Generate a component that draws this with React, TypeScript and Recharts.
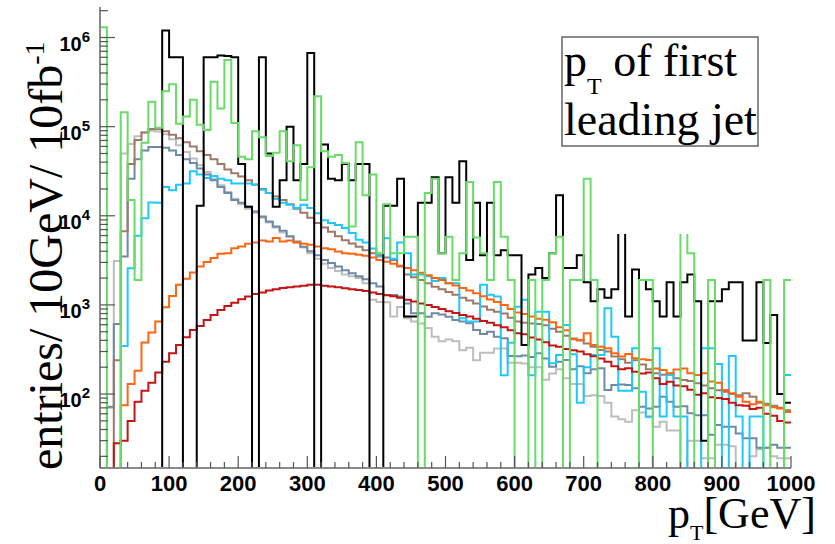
import React from 'react';
import { LineChart, Line, XAxis, YAxis } from 'recharts';

// 10 GeV bins from 0 to 1000 GeV; the last edge closes the final bin
const PT_EDGES = Array.from({ length: 101 }, (_, i) => i * 10);
const X_TICKS = Array.from({ length: 51 }, (_, i) => i * 20);
const Y_TICKS = [1, 2, 3, 4, 5, 6]
  .flatMap((e) => [1, 2, 3, 4, 5, 6, 7, 8, 9].map((m) => m * Math.pow(10, e)))
  .filter((v) => v >= 15 && v <= 2.2e6);
const Y_DOMAIN = [14.8, 2.2e6];

// entries per bin (0 = empty bin)
const BLACK = [
  0, 0, 0, 0, 0, 0, 0, 0, 0, 1.2e6,
  6e5, 6e5, 0, 0, 1.3e4, 6e5, 6e5, 6.3e5, 6.2e5, 6e5,
  3.8e4, 1.26e4, 0, 6e5, 5e4, 1.26e4, 2.5e4, 1e5, 2.5e4, 3.8e4,
  6.7e5, 0, 6.3e4, 2.6e4, 2.5e4, 3.8e4, 2.5e4, 3.8e4, 3.8e4, 0,
  0, 1.3e4, 1.3e4, 2.6e4, 740, 740, 1.4e4, 1.4e4, 2.7e4, 3.8e3,
  2.7e4, 1.4e4, 4.1e4, 3.2e3, 1.4e4, 3.6e3, 1.4e4, 3.6e3, 4.1e3, 3.6e3,
  3.6e3, 355, 2.2e3, 2.6e3, 2.0e3, 3.8e3, 1.7e4, 2.6e3, 2.6e3, 3.6e3,
  1.8e3, 1.1e3, 1.5e3, 1.2e3, 1.5e3, 3e4, 740, 2.5e3, 1.9e3, 1.5e3,
  1.1e3, 740, 1.8e3, 740, 1.8e3, 2.2e3, 1.1e3, 30, 1.1e3, 1.1e3,
  1.5e3, 1.8e3, 1.8e3, 400, 400, 1.8e3, 375, 770, 100, 80,
];
const GREEN = [
  1.3e6, 0, 0, 1.45e5, 1.5e4, 1.9e3, 6.6e4, 1.9e5, 9.7e4, 2.5e5,
  3.0e5, 1.08e5, 1.3e5, 2.0e5, 1.05e5, 9.2e4, 3.2e5, 1.6e5, 5.6e5, 1.1e5,
  4.6e4, 4.3e4, 8.9e4, 7.6e4, 4.7e4, 5.1e4, 8.9e4, 4.1e4, 6.2e4, 1.5e4,
  3.5e4, 2.2e5, 5.3e4, 4.6e4, 4.8e4, 3.9e4, 7.6e3, 6.7e4, 1.7e4, 2.9e4,
  3.8e3, 1.35e4, 3.8e3, 3.8e3, 5.8e3, 5.8e3, 0, 1.8e4, 2.6e4, 3.8e3,
  5.8e3, 1.9e3, 3.8e3, 2.4e4, 5.7e3, 3.8e3, 1.9e3, 2.4e4, 5.8e3, 1.9e3,
  0, 0, 1.9e3, 0, 1.9e3, 3.8e3, 5.8e3, 0, 1.9e3, 1.9e3,
  2.6e4, 1.9e3, 0, 0, 0, 0, 0, 0, 1.9e3, 1.9e3,
  0, 0, 0, 0, 1e5, 3.8e3, 0, 0, 1.9e3, 0,
  0, 0, 0, 0, 0, 0, 1.9e3, 0, 0, 1.9e3,
];
const BROWN = [
  0, 0, 240, 6.7e3, 3.8e4, 7.1e4, 8.6e4, 9.4e4, 9.4e4, 8.9e4,
  8.1e4, 7.4e4, 6.7e4, 6.0e4, 5.3e4, 4.8e4, 4.3e4, 3.8e4, 3.3e4, 3.0e4,
  2.75e4, 2.5e4, 2.25e4, 2.0e4, 1.8e4, 1.65e4, 1.5e4, 1.35e4, 1.2e4, 1.08e4,
  9.5e3, 8.3e3, 7.4e3, 6.6e3, 5.9e3, 5.3e3, 4.9e3, 4.5e3, 4.1e3, 3.8e3,
  3.6e3, 3.4e3, 3.2e3, 2.7e3, 2.2e3, 2.05e3, 1.9e3, 1.75e3, 1.6e3, 1.5e3,
  1.4e3, 1.3e3, 1.2e3, 1.12e3, 1.04e3, 960, 880, 840, 800, 720,
  650, 630, 620, 610, 590, 540, 500, 450, 420, 400,
  370, 340, 313, 300, 263, 245, 225, 240, 215, 190,
  171, 165, 168, 150, 144, 140, 132, 125, 116, 110,
  106, 100, 97, 102, 93, 80, 78, 74, 70, 66,
];
const GRAY = [
  0, 70, 3100, 5.0e4, 6.4e4, 7.8e4, 8.6e4, 9.0e4, 8.8e4, 8.2e4,
  7.2e4, 6.2e4, 5.2e4, 4.4e4, 3.7e4, 3.1e4, 2.6e4, 2.2e4, 1.85e4, 1.55e4,
  1.35e4, 1.2e4, 1.08e4, 9.5e3, 8.4e3, 7.4e3, 6.5e3, 5.8e3, 5.0e3, 4.4e3,
  3.8e3, 3.3e3, 2.9e3, 2.6e3, 2.4e3, 2.2e3, 2.1e3, 2.0e3, 1.75e3, 1.14e3,
  1.08e3, 1.07e3, 740, 950, 710, 650, 620, 550, 440, 390,
  410, 390, 310, 330, 240, 290, 290, 325, 325, 225,
  225, 220, 200, 200, 145, 170, 190, 150, 130, 130,
  95, 97, 95, 80, 56, 52, 49, 66, 62, 55,
  43, 49, 39, 39, 0, 30, 30, 19, 19, 27,
  27, 26, 0, 0, 20, 24, 25, 20, 19, 19,
];
const SLATE = [
  0, 72, 611, 3.5e3, 2.6e4, 4.3e4, 5.4e4, 5.9e4, 5.9e4, 5.8e4,
  5.4e4, 4.8e4, 4.3e4, 3.9e4, 3.4e4, 2.9e4, 2.5e4, 2.1e4, 1.8e4, 1.5e4,
  1.4e4, 1.26e4, 1.12e4, 9.8e3, 8.6e3, 7.6e3, 6.8e3, 5.9e3, 5.15e3, 4.5e3,
  4.0e3, 3.6e3, 3.2e3, 2.95e3, 2.7e3, 2.45e3, 2.27e3, 2.1e3, 1.94e3, 1.75e3,
  1.61e3, 1.29e3, 1.29e3, 1.24e3, 1.04e3, 805, 805, 738, 805, 780,
  738, 678, 650, 622, 524, 472, 500, 440, 422, 267,
  265, 270, 260, 287, 250, 203, 230, 241, 190, 205,
  171, 190, 195, 111, 126, 128, 126, 116, 72, 69,
  72, 93, 82, 72, 73, 61, 58, 58, 35, 45,
  43, 43, 36, 32, 32, 25, 25, 27, 25, 25,
];
const CYAN = [
  0, 0, 0, 346, 2.58e3, 5.96e3, 9.4e3, 1.41e4, 1.4e4, 2.1e4,
  1.93e4, 2.23e4, 2.3e4, 3.15e4, 2.9e4, 2.65e4, 2.8e4, 2.6e4, 2.5e4, 2.3e4,
  2.3e4, 2.3e4, 2.23e4, 1.96e4, 1.8e4, 1.54e4, 1.4e4, 1.33e4, 1.22e4, 1.33e4,
  1.22e4, 1.07e4, 8.9e3, 8.3e3, 7.9e3, 7.3e3, 6.4e3, 5.4e3, 5.0e3, 4.3e3,
  3.5e3, 5.6e3, 3.3e3, 5.0e3, 3.8e3, 2.2e3, 2.2e3, 2.1e3, 1.85e3, 2.0e3,
  1.75e3, 1.75e3, 710, 650, 650, 1.68e3, 1.3e3, 1.24e3, 163, 377,
  955, 1.14e3, 163, 840, 840, 221, 274, 596, 280, 80,
  200, 274, 274, 918, 440, 109, 109, 326, 106, 56,
  326, 56, 164, 56, 56, 0, 0, 326, 326, 217,
  0, 267, 56, 0, 56, 56, 0, 0, 0, 164,
];
const ORANGE = [
  0, 0, 0, 75, 130, 182, 378, 489, 650, 942,
  1260, 1680, 1960, 2310, 2700, 3040, 3350, 3740, 3800, 4330,
  4520, 4850, 5020, 5290, 5150, 5620, 5150, 5290, 5020, 4850,
  4720, 4520, 4330, 4220, 3970, 3800, 3750, 3650, 3550, 3400,
  3200, 3050, 2900, 2750, 2600, 2450, 2300, 2150, 2000, 1900,
  1750, 1650, 1550, 1450, 1350, 1250, 1150, 1080, 1000, 900,
  820, 790, 740, 700, 680, 640, 560, 520, 411, 404,
  481, 356, 340, 326, 286, 263, 282, 252, 245, 241,
  194, 186, 171, 189, 194, 171, 164, 171, 138, 134,
  111, 102, 93, 82, 77, 82, 75, 71, 69, 63,
];
const RED = [
  0, 0, 28, 30, 50, 82, 109, 134, 174, 231,
  287, 355, 434, 524, 581, 679, 773, 879, 975, 1060,
  1160, 1240, 1330, 1380, 1450, 1500, 1550, 1580, 1610, 1640,
  1680, 1680, 1640, 1610, 1580, 1540, 1500, 1470, 1430, 1380,
  1330, 1280, 1250, 1200, 1140, 1090, 1040, 1000, 950, 900,
  850, 810, 770, 740, 700, 660, 630, 590, 560, 520,
  480, 470, 430, 410, 380, 350, 340, 320, 310, 300,
  280, 265, 250, 230, 205, 190, 195, 178, 170, 175,
  150, 130, 137, 125, 122, 112, 98, 102, 92, 90,
  88, 80, 75, 74, 68, 70, 60, 57, 50, 48,
];

// drawing order = stacking order (last on top)
const SERIES = [
  { key: 'gray', color: '#bdbdbd', values: GRAY },
  { key: 'slate', color: '#6f8aa6', values: SLATE },
  { key: 'brown', color: '#a07868', values: BROWN },
  { key: 'cyan', color: '#1ec8ff', values: CYAN },
  { key: 'orange', color: '#ff6614', values: ORANGE },
  { key: 'red', color: '#c41414', values: RED },
  { key: 'black', color: '#000000', values: BLACK },
  { key: 'green', color: '#66dd66', values: GREEN },
];

// empty bins go far below the axis floor so the step drops out of the frame
const EMPTY = 1;

const data = PT_EDGES.map((x, i) => {
  const row: Record<string, number> = { x };
  SERIES.forEach((s) => {
    const v = s.values[Math.min(i, s.values.length - 1)];
    row[s.key] = v > 0 ? v : EMPTY;
  });
  return row;
});

const FRAME = '#8a8a8a';
const TICK = '#555';
const SANS = '"Liberation Sans", Arial, sans-serif';
const SERIF = '"Liberation Serif", "Times New Roman", serif';

const isDecade = (v: number) => {
  const e = Math.round(Math.log10(v));
  return Math.abs(v - Math.pow(10, e)) < 1e-6 * v;
};

const BottomTick = (props: any) => {
  const { x, y, payload } = props;
  const major = payload.value % 100 === 0;
  return (
    <g>
      <line x1={x} x2={x} y1={y} y2={y - (major ? 12 : 6)} stroke={TICK} strokeWidth={1.2} />
      {major && (
        <text x={x} y={y + 23} textAnchor="middle" fontFamily={SANS} fontWeight="bold" fontSize={22} fill="#000">
          {payload.value}
        </text>
      )}
    </g>
  );
};

const TopTick = (props: any) => {
  const { x, y, payload } = props;
  const major = payload.value % 100 === 0;
  return <line x1={x} x2={x} y1={y} y2={y + (major ? 13 : 7)} stroke={TICK} strokeWidth={1.2} />;
};

const LeftTick = (props: any) => {
  const { x, y, payload } = props;
  const major = isDecade(payload.value);
  const exp = Math.round(Math.log10(payload.value));
  return (
    <g>
      <line x1={x} x2={x + (major ? 15 : 8)} y1={y} y2={y} stroke={TICK} strokeWidth={1.2} />
      {major && (
        <text x={x - 10} y={y + 13} textAnchor="end" fontFamily={SANS} fontWeight="bold" fontSize={20} fill="#000">
          10
          <tspan dy={-9} fontSize={15}>
            {exp}
          </tspan>
        </text>
      )}
    </g>
  );
};

const RightTick = (props: any) => {
  const { x, y, payload } = props;
  const major = isDecade(payload.value);
  return <line x1={x} x2={x - (major ? 15 : 8)} y1={y} y2={y} stroke={TICK} strokeWidth={1.2} />;
};

export default function App() {
  return (
    <div style={{ position: 'absolute', left: 0, top: 0, width: 835, height: 544, background: '#fff' }}>
      <LineChart width={835} height={544} data={data} margin={{ top: 7, right: 44, bottom: 0, left: 0 }}>
        <XAxis
          xAxisId="b"
          dataKey="x"
          type="number"
          domain={[0, 1000]}
          ticks={X_TICKS}
          interval={0}
          tickSize={0}
          tickMargin={0}
          height={76}
          allowDataOverflow
          axisLine={{ stroke: FRAME, strokeWidth: 2 }}
          tickLine={false}
          tick={<BottomTick />}
        />
        <XAxis
          xAxisId="t"
          orientation="top"
          dataKey="x"
          type="number"
          domain={[0, 1000]}
          ticks={X_TICKS}
          interval={0}
          tickSize={0}
          tickMargin={0}
          height={0}
          allowDataOverflow
          axisLine={{ stroke: FRAME, strokeWidth: 2 }}
          tickLine={false}
          tick={<TopTick />}
        />
        <YAxis
          yAxisId="l"
          scale="log"
          type="number"
          domain={Y_DOMAIN}
          ticks={Y_TICKS}
          interval={0}
          tickSize={0}
          tickMargin={0}
          width={100}
          allowDataOverflow
          axisLine={{ stroke: FRAME, strokeWidth: 2 }}
          tickLine={false}
          tick={<LeftTick />}
        />
        <YAxis
          yAxisId="r"
          orientation="right"
          scale="log"
          type="number"
          domain={Y_DOMAIN}
          ticks={Y_TICKS}
          interval={0}
          tickSize={0}
          tickMargin={0}
          width={0}
          allowDataOverflow
          axisLine={{ stroke: FRAME, strokeWidth: 2 }}
          tickLine={false}
          tick={<RightTick />}
        />
        {SERIES.map((s) => (
          <Line
            key={s.key}
            xAxisId="b"
            yAxisId="l"
            dataKey={s.key}
            type="stepAfter"
            stroke={s.color}
            strokeWidth={2}
            dot={false}
            activeDot={false}
            isAnimationActive={false}
          />
        ))}
      </LineChart>
      <svg width={835} height={544} style={{ position: 'absolute', left: 0, top: 0, pointerEvents: 'none' }}>
        {/* pasted-over corner of the original figure */}
        <rect x={617} y={0} width={218} height={234} fill="#fff" />
        <rect x={562} y={37} width={196} height={109} fill="#fff" stroke="#666" strokeWidth={1.5} />
        <text x={564} y={76} fontFamily={SERIF} fontSize={46} fill="#000">
          p<tspan dy={18} fontSize={24}>T</tspan>
          <tspan dy={-18}> of first</tspan>
        </text>
        <text x={564} y={135} fontFamily={SERIF} fontSize={46} fill="#000">
          leading jet
        </text>
        <text x={668} y={528} fontFamily={SERIF} fontSize={44} fill="#000">
          p<tspan dy={12} fontSize={22}>T</tspan>
          <tspan dy={-12}>[GeV]</tspan>
        </text>
        <text transform="translate(62, 470) rotate(-90)" fontFamily={SERIF} fontSize={48} fill="#000">
          entries/ 10GeV/ 10fb<tspan dy={-18} fontSize={28}>-1</tspan>
        </text>
      </svg>
    </div>
  );
}
